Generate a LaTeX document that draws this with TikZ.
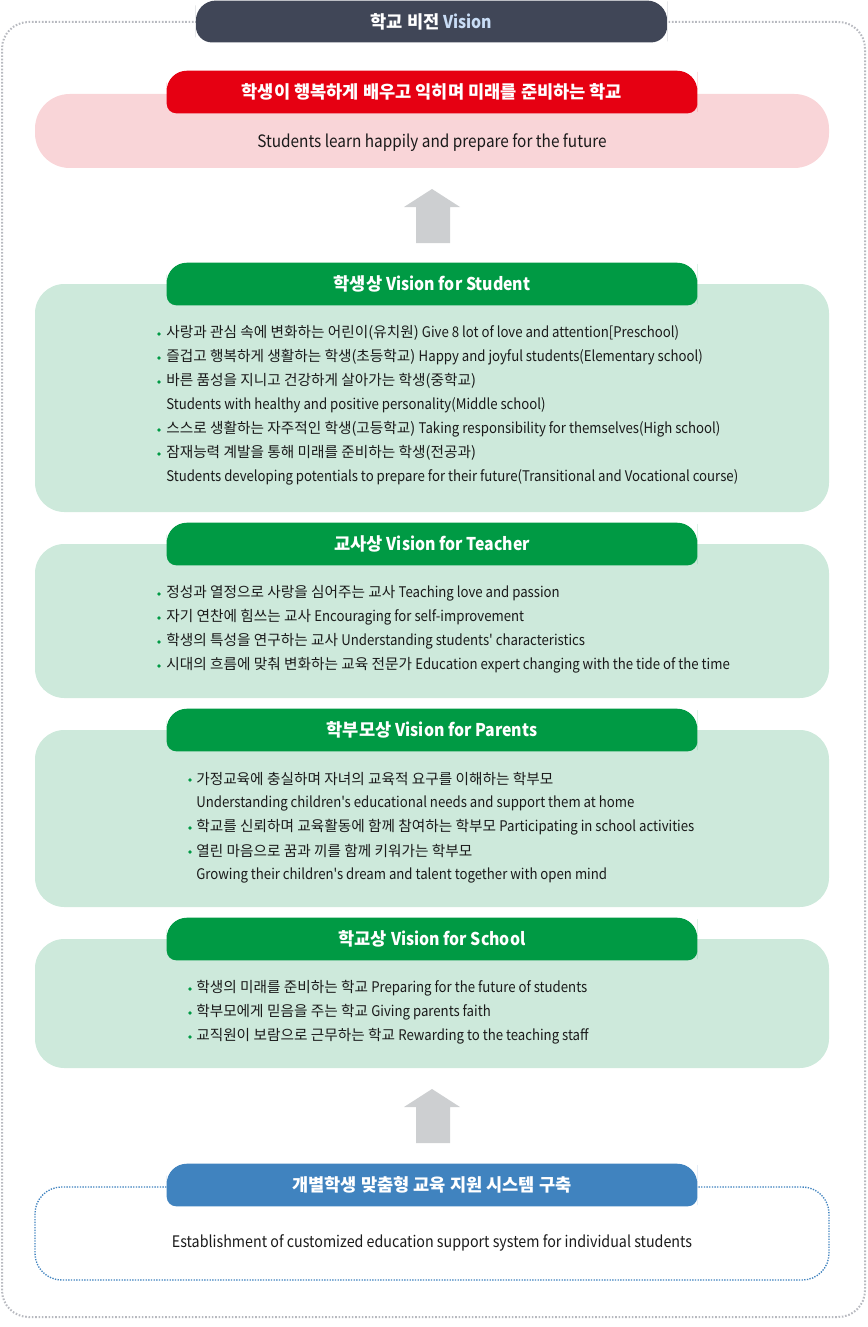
\documentclass[tikz,border=0pt]{standalone}
\usepackage{fontspec}
\setmainfont{Noto Sans CJK KR}
\newfontfamily\en{Noto Sans CJK KR}[FakeStretch=0.9]
\pgfdeclarelayer{boxes}
\pgfdeclarelayer{pills}
\pgfsetlayers{boxes,pills,main}
\definecolor{navy}{RGB}{64,70,87}
\definecolor{visblue}{RGB}{200,220,245}
\definecolor{hred}{RGB}{230,0,18}
\definecolor{pinkbg}{RGB}{249,213,216}
\definecolor{hgreen}{RGB}{0,154,68}
\definecolor{greenbg}{RGB}{205,233,219}
\definecolor{hblue}{RGB}{64,131,191}
\definecolor{arrowgray}{RGB}{205,207,209}
\definecolor{dotgray}{RGB}{184,186,192}
\definecolor{ink}{RGB}{26,26,26}
\newcommand{\pillfill}[4]{%
  \begin{pgfonlayer}{pills}
  \fill[#2] (#1.south) [rounded corners=#4] -| (#1.west) [rounded corners=#3] |- (#1.north)
    -| (#1.east) [rounded corners=#4] |- (#1.south);
  \end{pgfonlayer}}
\tikzset{
  hdr/.style={minimum width=397.5pt, minimum height=31.5pt, inner sep=0pt,
    text=white, font=\bfseries\fontsize{13.2}{15}\selectfont},
  txt/.style={anchor=west, inner sep=0pt, text=ink, font=\fontsize{11}{13}\selectfont},
  entxt/.style={txt, font=\en\fontsize{11}{13}\selectfont},
  panel/.style={rounded corners=22pt}
}
\begin{document}
\begin{tikzpicture}[x=0.75pt, y=-0.75pt]
\useasboundingbox (0,0) rectangle (867,1327);

% frame and panels
\begin{pgfonlayer}{boxes}
\draw[dotgray, line width=1.5pt, dash pattern=on 1.2pt off 1.3pt, rounded corners=20pt] (2,22) rectangle (865,1317);
\fill[pinkbg, rounded corners=26pt] (35,94) rectangle (829,168);
\fill[greenbg, panel] (35,284) rectangle (829,512);
\fill[greenbg, panel] (35,544) rectangle (829,698);
\fill[greenbg, panel] (35,730) rectangle (829,907);
\fill[greenbg, panel] (35,939) rectangle (829,1068);
\fill[white, rounded corners=20pt] (35,1187) rectangle (829,1280);
\draw[hblue, line width=1pt, dash pattern=on 1pt off 1pt, rounded corners=20pt] (35,1187) rectangle (829,1280);
\end{pgfonlayer}

% arrows
\fill[arrowgray] (416,243) -- (416,207) -- (404,207) -- (432,189) -- (460,207) -- (450,207) -- (450,243) -- cycle;
\fill[arrowgray] (416,1143) -- (416,1107) -- (404,1107) -- (432,1089) -- (460,1107) -- (450,1107) -- (450,1143) -- cycle;

% headers
\node[hdr, minimum width=353pt, minimum height=31pt] (vision) at (431.5,21.5) {학교 비전 \textcolor{visblue}{\en Vision}};
\pillfill{vision}{navy}{15pt}{12pt}
\node[hdr] (motto) at (432,92) {학생이 행복하게 배우고 익히며 미래를 준비하는 학교};
\pillfill{motto}{hred}{15pt}{7pt}
\node[entxt, anchor=center, font=\en\fontsize{12.8}{14}\selectfont] (mottoen) at (432,143) {Students learn happily and prepare for the future};

\node[hdr] (hstud) at (432,284) {학생상 {\en Vision for Student}};
\pillfill{hstud}{hgreen}{15pt}{7pt}
\node[hdr] (hteach) at (432,544) {교사상 {\en Vision for Teacher}};
\pillfill{hteach}{hgreen}{15pt}{7pt}
\node[hdr] (hpar) at (432,730) {학부모상 {\en Vision for Parents}};
\pillfill{hpar}{hgreen}{15pt}{7pt}
\node[hdr] (hschool) at (432,939) {학교상 {\en Vision for School}};
\pillfill{hschool}{hgreen}{15pt}{7pt}
\node[hdr] (hsys) at (432,1185) {개별학생 맞춤형 교육 지원 시스템 구축};
\pillfill{hsys}{hblue}{15pt}{7pt}
\node[entxt, anchor=center, font=\en\fontsize{11.9}{14}\selectfont] (sysen) at (432,1243) {Establishment of customized education support system for individual students};

% student
\node[txt] (s1a) at (166,333) {사랑과 관심 속에 변화하는 어린이(유치원) {\en Give 8 lot of love and attention[Preschool)}};
\node[txt] (s1b) at (166,357) {즐겁고 행복하게 생활하는 학생(초등학교) {\en Happy and joyful students(Elementary school)}};
\node[txt] (s1c) at (166,381) {바른 품성을 지니고 건강하게 살아가는 학생(중학교)};
\node[entxt] (s1d) at (166,405) {Students with healthy and positive personality(Middle school)};
\node[txt] (s1e) at (166,429) {스스로 생활하는 자주적인 학생(고등학교) {\en Taking responsibility for themselves(High school)}};
\node[txt] (s1f) at (166,453) {잠재능력 계발을 통해 미래를 준비하는 학생(전공과)};
\node[entxt] (s1g) at (166,477) {Students developing potentials to prepare for their future(Transitional and Vocational course)};
\foreach \y in {334,358,382,430,454}
  \fill[hgreen] (159,\y) circle (1.4pt);

% teacher
\node[txt] (t2a) at (166,593) {정성과 열정으로 사랑을 심어주는 교사 {\en Teaching love and passion}};
\node[txt] (t2b) at (166,617) {자기 연찬에 힘쓰는 교사 {\en Encouraging for self-improvement}};
\node[txt] (t2c) at (166,641) {학생의 특성을 연구하는 교사 {\en Understanding students' characteristics}};
\node[txt] (t2d) at (166,665) {시대의 흐름에 맞춰 변화하는 교육 전문가 {\en Education expert changing with the tide of the time}};
\foreach \y in {594,618,642,666}
  \fill[hgreen] (159,\y) circle (1.4pt);

% parents
\node[txt] (p3a) at (196,779) {가정교육에 충실하며 자녀의 교육적 요구를 이해하는 학부모};
\node[entxt] (p3b) at (196,803) {Understanding children's educational needs and support them at home};
\node[txt] (p3c) at (196,827) {학교를 신뢰하며 교육활동에 함께 참여하는 학부모 {\en Participating in school activities}};
\node[txt] (p3d) at (196,851) {열린 마음으로 꿈과 끼를 함께 키워가는 학부모};
\node[entxt] (p3e) at (196,875) {Growing their children's dream and talent together with open mind};
\foreach \y in {780,828,852}
  \fill[hgreen] (190,\y) circle (1.4pt);

% school
\node[txt] (c4a) at (196,988) {학생의 미래를 준비하는 학교 {\en Preparing for the future of students}};
\node[txt] (c4b) at (196,1012) {학부모에게 믿음을 주는 학교 {\en Giving parents faith}};
\node[txt] (c4c) at (196,1036) {교직원이 보람으로 근무하는 학교 {\en Rewarding to the teaching staff}};
\foreach \y in {989,1013,1037}
  \fill[hgreen] (190,\y) circle (1.4pt);
\end{tikzpicture}
\end{document}
